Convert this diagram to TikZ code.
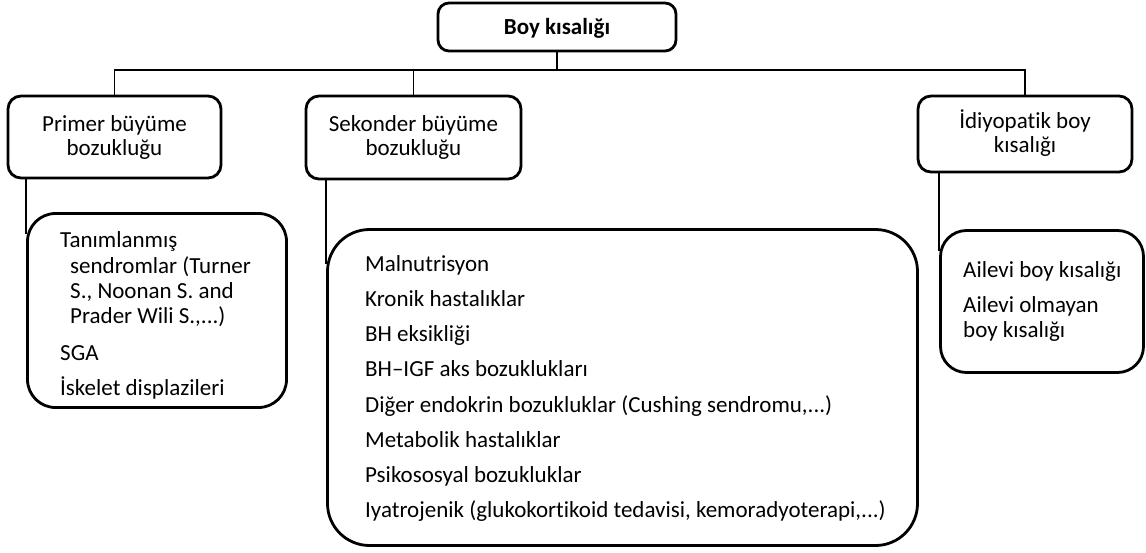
\documentclass[tikz,border=0pt]{standalone}
\usepackage{fontspec}
\setmainfont{Carlito}[Ligatures={TeX,NoCommon}]
\begin{document}
\begin{tikzpicture}[x=1pt,y=-1pt,
  box/.style={draw,line width=2.8pt,rounded corners=#1,inner sep=0pt},
  box/.default=11pt,
  link/.style={line width=1.9pt},
  txt/.style={inner sep=0pt,font=\fontsize{23}{25}\selectfont},
  lt/.style={txt,anchor=base west},
  ct/.style={txt,anchor=base}]
\useasboundingbox (0,0) rectangle (1146,552);
% boxes
\node[box=11pt,minimum width=238pt,minimum height=48pt] (top) at (557,27) {};
\node[box=13pt,minimum width=213pt,minimum height=82pt] (prim) at (114.5,137) {};
\node[box=13pt,minimum width=215pt,minimum height=83pt] (sek) at (413.5,137.5) {};
\node[box=13pt,minimum width=214pt,minimum height=76pt] (idio) at (1025,134) {};
\node[box=28pt,minimum width=259pt,minimum height=194pt] (l1) at (157,310.5) {};
\node[box=42pt,minimum width=590pt,minimum height=316pt] (l2) at (622.5,387.5) {};
\node[box=26pt,minimum width=203pt,minimum height=142pt] (l3) at (1042,301.5) {};
% connectors
\coordinate (bar) at (557,70);
\draw[link] (top.south) -- (bar);
\draw[link] (prim.north) |- (bar) -| (idio.north);
\draw[link] (sek.north) -- (sek.north |- bar);
\draw[link] ([yshift=-22pt]l1.north west) -- (l1.north west |- prim.south);
\draw[link] ([yshift=-36pt]l2.north west) -- (l2.north west |- sek.south);
\draw[link] ([yshift=-22pt]l3.north west) -- (l3.north west |- idio.south);
% headings
\node[ct,font=\fontsize{23}{25}\selectfont\bfseries] (tt) at (557,34) {Boy kısalığı};
\node[ct] (p1) at (114.5,131) {Primer büyüme};
\node[ct] (p2) at (114.5,155) {bozukluğu};
\node[ct] (s1) at (413.5,131) {Sekonder büyüme};
\node[ct] (s2) at (413.5,155) {bozukluğu};
\node[ct] (i1) at (1025,128) {İdiyopatik boy};
\node[ct] (i2) at (1025,152) {kısalığı};
% list 1
\node[lt] (a1) at (60,247) {Tanımlanmış};
\node[lt] (a2) at (70,273) {sendromlar (Turner};
\node[lt] (a3) at (70,298) {S., Noonan S. and};
\node[lt] (a4) at (70,323) {Prader Wili S.,...)};
\node[lt] (a5) at (60,360) {SGA};
\node[lt] (a6) at (60,395) {İskelet displazileri};
% list 2
\node[lt] (b1) at (365,271) {Malnutrisyon};
\node[lt] (b2) at (365,306) {Kronik hastalıklar};
\node[lt] (b3) at (365,341) {BH eksikliği};
\node[lt] (b4) at (365,376) {BH–IGF aks bozuklukları};
\node[lt] (b5) at (365,412) {Diğer endokrin bozukluklar (Cushing sendromu,...)};
\node[lt] (b6) at (365,447) {Metabolik hastalıklar};
\node[lt] (b7) at (365,482) {Psikososyal bozukluklar};
\node[lt] (b8) at (365,517) {Iyatrojenik (glukokortikoid tedavisi, kemoradyoterapi,...)};
% list 3
\node[lt] (c1) at (963,277) {Ailevi boy kısalığı};
\node[lt] (c2) at (963,312) {Ailevi olmayan};
\node[lt] (c3) at (963,337) {boy kısalığı};
\end{tikzpicture}
\end{document}
